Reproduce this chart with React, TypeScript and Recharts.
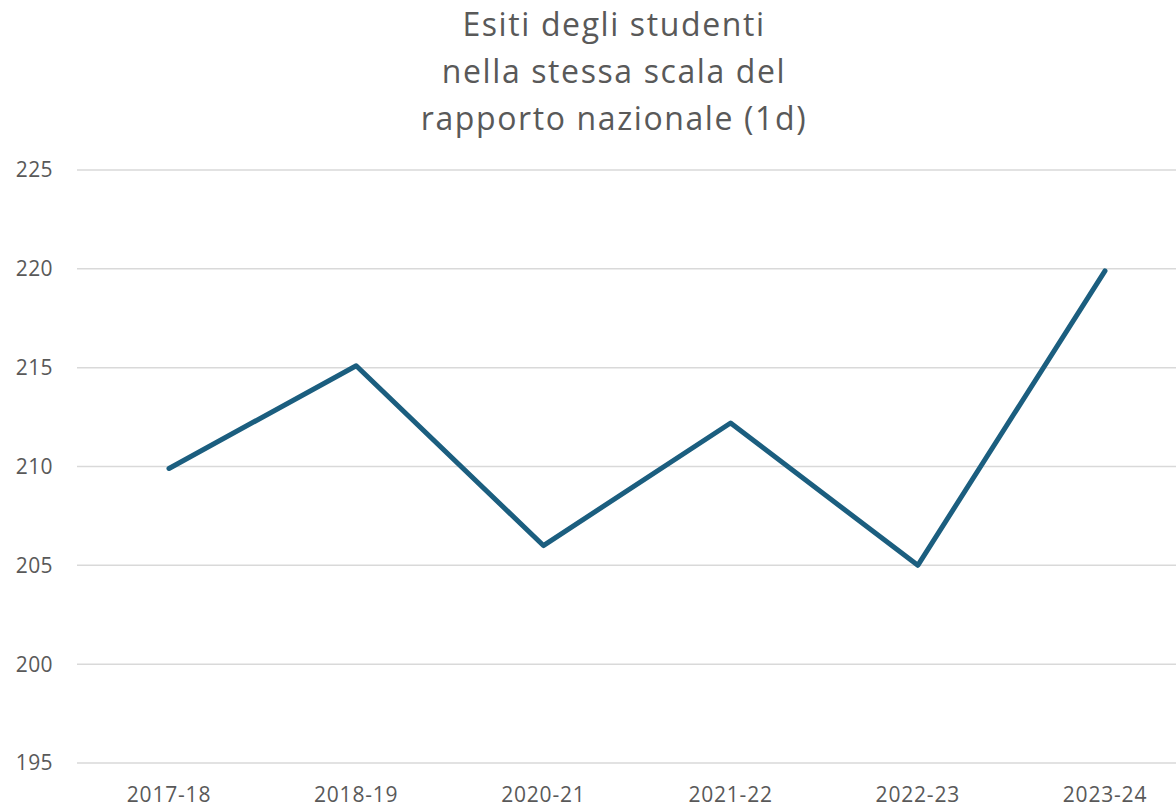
import { CartesianGrid, Line, LineChart, XAxis, YAxis } from 'recharts';

const YEARS = ['2017-18', '2018-19', '2020-21', '2021-22', '2022-23', '2023-24'];
const SCORES = [209.9, 215.1, 206.0, 212.2, 205.0, 219.9];
const Y_TICKS = [195, 200, 205, 210, 215, 220, 225];
const TITLE_LINES = ['Esiti degli studenti', 'nella stessa scala del', 'rapporto nazionale (1d)'];

const TEXT = '#595959';
const FONT = '"Open Sans", "Liberation Sans", sans-serif';

export default function App() {
  const data = YEARS.map((year, i) => ({ year, score: SCORES[i] }));

  return (
    <div
      style={{
        position: 'absolute',
        left: 0,
        top: 0,
        width: 1176,
        height: 807,
        overflow: 'hidden',
        background: '#fff',
        fontFamily: FONT,
      }}
    >
      <div
        style={{
          position: 'absolute',
          left: 0,
          top: 0,
          width: 1228,
          textAlign: 'center',
          color: TEXT,
          fontSize: 32,
          letterSpacing: 1.6,
          lineHeight: '47px',
        }}
      >
        {TITLE_LINES.map((t) => (
          <div key={t}>{t}</div>
        ))}
      </div>
      <div style={{ position: 'absolute', left: 0, top: 0 }}>
        <LineChart
          width={1200}
          height={807}
          data={data}
          margin={{ top: 170, right: 2, bottom: 0, left: 0 }}
        >
          <CartesianGrid vertical={false} stroke="#d9d9d9" strokeWidth={1.5} />
          <XAxis
            dataKey="year"
            axisLine={false}
            tickLine={false}
            tickSize={0}
            tickMargin={24}
            height={44}
            interval={0}
            padding={{ left: 92, right: 93 }}
            tick={{ fill: TEXT, fontSize: 21, fontFamily: FONT, letterSpacing: 0.8 }}
          />
          <YAxis
            domain={[195, 225]}
            ticks={Y_TICKS}
            axisLine={false}
            tickLine={false}
            tickSize={0}
            tickMargin={24}
            width={77}
            tick={{ fill: TEXT, fontSize: 21, fontFamily: FONT, letterSpacing: 0.4 }}
          />
          <Line
            type="linear"
            dataKey="score"
            stroke="#1b5e7f"
            strokeWidth={5}
            strokeLinecap="round"
            strokeLinejoin="round"
            dot={false}
            isAnimationActive={false}
          />
        </LineChart>
      </div>
    </div>
  );
}
